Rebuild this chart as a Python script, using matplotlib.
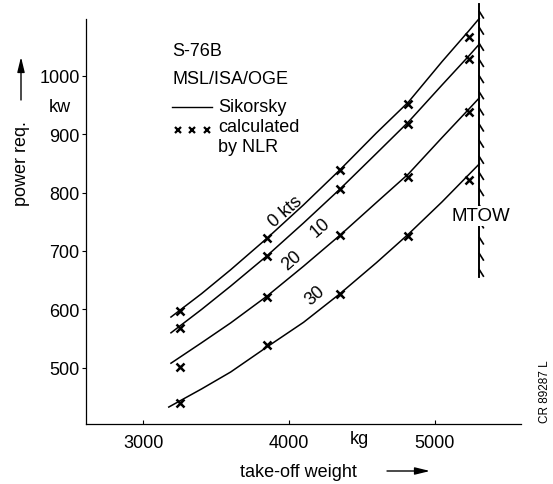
import matplotlib
matplotlib.use('Agg')
import matplotlib.pyplot as plt
import matplotlib.patheffects as pe
from matplotlib.lines import Line2D

plt.rcParams['font.family'] = ['Liberation Sans', 'DejaVu Sans']

# NLR calculated points (x markers)
calc_weight = [3250, 3850, 4350, 4820, 5235]
calc_0kts = [597, 723, 839, 952, 1066]
calc_10kts = [569, 691, 806, 917, 1029]
calc_20kts = [501, 621, 727, 827, 938]
calc_30kts = [440, 539, 627, 725, 822]

# Sikorsky curves
sik_weight = [3190, 3400, 3600, 3850, 4100, 4350, 4600, 4820, 5050, 5235, 5306]
sik_weight_30 = [3175, 3400, 3600, 3850, 4100, 4350, 4600, 4820, 5050, 5235, 5306]
sik_0kts = [587, 627, 668, 722, 779, 839, 902, 955, 1024, 1077, 1098]
sik_10kts = [560, 600, 640, 692, 748, 806, 867, 921, 984, 1034, 1054]
sik_20kts = [508, 543, 577, 623, 674, 727, 783, 832, 894, 943, 962]
sik_30kts = [433, 464, 493, 536, 578, 627, 680, 729, 784, 831, 849]

speed_labels = ['0 kts', '10', '20', '30']
label_pos = [(3973, 769), (4213, 741), (4021, 684), (4179, 624)]

mtow = 5306
mtow_range = (655, 1123)

x_ticks = [3000, 4000, 5000]
y_ticks = [500, 600, 700, 800, 900, 1000]

fig = plt.figure(figsize=(5.53, 4.85), dpi=100)
W, H = 553, 485
ax = fig.add_axes([86 / W, 60 / H, 435 / W, 421.4 / H])

for curve, xs in [(sik_0kts, sik_weight), (sik_10kts, sik_weight),
                  (sik_20kts, sik_weight), (sik_30kts, sik_weight_30)]:
    ax.plot(xs, curve, color='black', lw=1.1)

for pts in [calc_0kts, calc_10kts, calc_20kts, calc_30kts]:
    ax.plot(calc_weight, pts, ls='none', marker='x', ms=5.5, mew=1.8, color='black')

for txt, (lx, ly) in zip(speed_labels, label_pos):
    ax.text(lx, ly, txt, rotation=41, ha='center', va='center', fontsize=13,
            rotation_mode='anchor')

# MTOW limit line with hatching
ax.plot([mtow, mtow], [mtow_range[1], mtow_range[0]], color='black', lw=1.2,
        clip_on=False,
        path_effects=[pe.Stroke(), pe.withTickedStroke(angle=32, spacing=11, length=0.5)])
ax.text(mtow + 12, 760, 'MTOW', ha='center', va='center', fontsize=13.5,
        bbox=dict(facecolor='white', edgecolor='none', pad=1))

ax.set_xlim(2607, 5592)
ax.set_ylim(404, 1125)
ax.spines['top'].set_visible(False)
ax.spines['right'].set_visible(False)
ax.spines['left'].set_bounds(404, 1097)
ax.spines['left'].set_linewidth(0.9)
ax.spines['bottom'].set_linewidth(0.9)

ax.set_xticks(x_ticks)
ax.set_yticks(y_ticks)
ax.tick_params(axis='x', direction='in', length=3, pad=7, labelsize=13)
ax.tick_params(axis='y', direction='out', length=3, pad=1.5, labelsize=13)

ax.text(4480, 380, 'kg', ha='center', va='center', fontsize=13,
        transform=ax.transData, clip_on=False)

# header and legend
fig.text(172 / W, 1 - 51 / H, 'S-76B', fontsize=13, va='center')
fig.text(172 / W, 1 - 80 / H, 'MSL/ISA/OGE', fontsize=13, va='center')
fig.add_artist(Line2D([172 / W, 212 / W], [1 - 108 / H, 1 - 108 / H], color='black', lw=1.0))
fig.text(218 / W, 1 - 108 / H, 'Sikorsky', fontsize=13, va='center')
fig.add_artist(Line2D([177.7 / W, 192.3 / W, 206.7 / W], [1 - 130.7 / H] * 3,
                      ls='none', marker='x', ms=4.5, mew=1.6, color='black'))
fig.text(218 / W, 1 - 128 / H, 'calculated', fontsize=13, va='center')
fig.text(218 / W, 1 - 148 / H, 'by NLR', fontsize=13, va='center')

# axis titles with arrows
fig.text(21 / W, 1 - 164 / H, 'power req.', rotation=90, fontsize=13,
         ha='center', va='center')
fig.text(60 / W, 1 - 107 / H, 'kw', fontsize=13, ha='center', va='center')
fig.text(298 / W, 1 - 473 / H, 'take-off weight', fontsize=13, ha='center', va='center')
arrow = dict(arrowstyle='-|>,head_length=0.9,head_width=0.22', color='black',
             lw=1.0, shrinkA=0, shrinkB=0, facecolor='#888888')
ax.annotate('', xy=(21 / W, 1 - 58 / H), xytext=(21 / W, 1 - 101 / H),
            xycoords='figure fraction', arrowprops=arrow)
ax.annotate('', xy=(430 / W, 1 - 472 / H), xytext=(387 / W, 1 - 472 / H),
            xycoords='figure fraction', arrowprops=arrow)

fig.text(545 / W, 1 - 392 / H, 'CR 89287 L', rotation=90, fontsize=8.5,
         ha='center', va='center')

fig.savefig('out.png', dpi=100)
